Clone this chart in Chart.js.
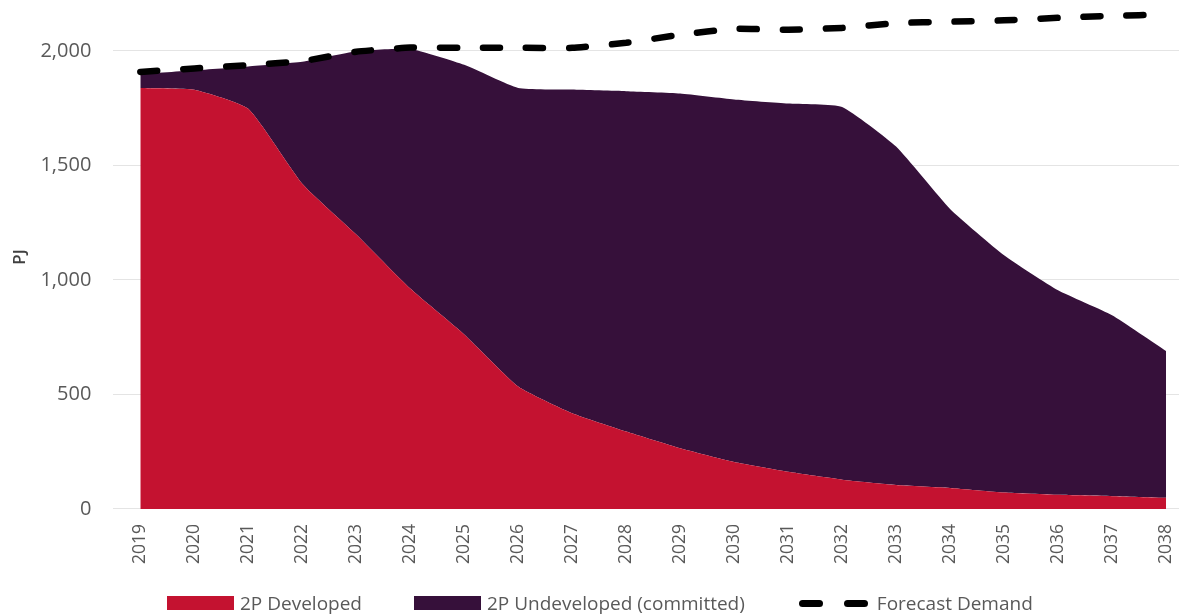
<!DOCTYPE html>
<html>
<head>
<meta charset="utf-8">
<title>Gas supply vs forecast demand</title>
<script src="https://cdn.jsdelivr.net/npm/chart.js@4/dist/chart.umd.min.js"></script>
<style>
    html, body { margin: 0; padding: 0; background: #fff; overflow: hidden; }
    #wrap { position: relative; width: 1179px; height: 615px; overflow: hidden; }
    /* canvas sits a little above the page so the 2,200 headroom starts at the top edge */
    #supplyChart { position: absolute; left: 0; top: -29px; }
    #legend {
        position: absolute; left: 167px; top: 590px;
        display: flex; align-items: center;
        font: 19px 'Open Sans', sans-serif; color: #595959; white-space: nowrap;
    }
    .item { display: flex; align-items: center; margin-right: 52px; }
    .item:nth-child(2) { margin-right: 54px; }
    .swatch { width: 67px; height: 14px; margin-right: 6px; }
    .dash { display: flex; gap: 21px; width: 69px; margin-right: 9px; }
    .dash span { width: 24px; height: 7px; border-radius: 4px; background: #000; }
</style>
</head>
<body>
<div id="wrap">
    <canvas id="supplyChart" width="1202" height="644"></canvas>
    <div id="legend"></div>
</div>
<script>
// --- Data (PJ) ---
const years = ['2019', '2020', '2021', '2022', '2023', '2024', '2025', '2026', '2027', '2028',
               '2029', '2030', '2031', '2032', '2033', '2034', '2035', '2036', '2037', '2038'];
const developed   = [1838, 1830, 1747, 1420, 1198, 962, 762, 535, 418, 338,
                     265, 205, 162, 128, 105, 92, 72, 62, 56, 49];
const undeveloped = [60, 85, 185, 532, 800, 1046, 1177, 1303, 1413, 1486,
                     1549, 1583, 1608, 1627, 1477, 1218, 1036, 893, 790, 641];
const demand      = [1908, 1923, 1937, 1955, 1996, 2014, 2013, 2013, 2013, 2035,
                     2070, 2096, 2092, 2100, 2121, 2127, 2133, 2144, 2153, 2158];
const yTicks = [0, 500, 1000, 1500, 2000];

const RED = '#C41230';
const PURPLE = '#36103A';
const GREY = '#595959';
const FONT = "'Open Sans', sans-serif";

const chart = new Chart(document.getElementById('supplyChart'), {
    type: 'line',
    data: {
        labels: years,
        datasets: [
            {
                label: 'Forecast Demand',
                data: demand,
                stack: 'demand',
                borderColor: '#000',
                borderWidth: 6.5,
                borderDash: [17, 26],
                borderCapStyle: 'round',
                fill: false,
                pointRadius: 0,
                tension: 0.15,
                clip: false
            },
            {
                label: '2P Developed',
                data: developed,
                backgroundColor: RED,
                borderWidth: 0,
                fill: 'origin',
                pointRadius: 0,
                tension: 0.15
            },
            {
                label: '2P Undeveloped (committed)',
                data: undeveloped,
                backgroundColor: PURPLE,
                borderWidth: 0,
                fill: '-1',
                pointRadius: 0,
                tension: 0.15
            }
        ]
    },
    options: {
        responsive: false,
        animation: false,
        layout: { padding: { left: 10, top: 0, right: 0, bottom: 36 } },
        plugins: {
            legend: { display: false },
            tooltip: { enabled: false }
        },
        scales: {
            x: {
                offset: true,
                grid: { display: false, drawTicks: false },
                border: { display: false },
                ticks: {
                    autoSkip: false,
                    maxRotation: 90,
                    minRotation: 90,
                    padding: 15,
                    color: GREY,
                    font: { family: FONT, size: 17.5 }
                }
            },
            y: {
                stacked: true,
                min: 0,
                max: 2200,
                border: { display: false },
                grid: { color: '#e4e4e4', drawTicks: false },
                afterBuildTicks: scale => { scale.ticks = yTicks.map(v => ({ value: v })); },
                ticks: {
                    padding: 22,
                    color: GREY,
                    font: { family: FONT, size: 20 },
                    callback: v => v.toLocaleString('en-US')
                },
                title: {
                    display: true,
                    text: 'PJ',
                    color: '#404040',
                    font: { family: FONT, size: 17, weight: '600' },
                    padding: { top: 0, bottom: -12 }
                }
            }
        }
    }
});

// --- Legend (areas first, demand line last) ---
const legend = document.getElementById('legend');
[1, 2, 0].forEach(i => {
    const ds = chart.data.datasets[i];
    const item = document.createElement('div');
    item.className = 'item';
    const marker = ds.fill === false
        ? '<div class="dash"><span></span><span></span></div>'
        : `<div class="swatch" style="background:${ds.backgroundColor}"></div>`;
    item.innerHTML = `${marker}<span>${ds.label}</span>`;
    legend.appendChild(item);
});
</script>
</body>
</html>
